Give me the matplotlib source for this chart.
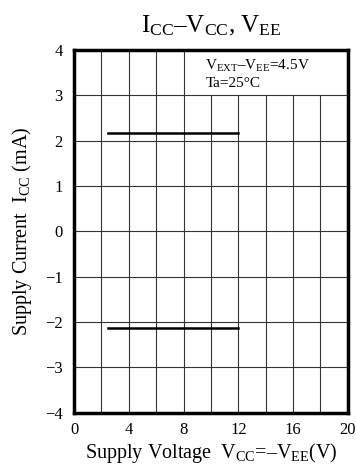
import matplotlib
matplotlib.use("Agg")
import matplotlib.pyplot as plt

plt.rcParams["font.family"] = ["Liberation Serif", "DejaVu Serif"]
plt.rcParams["mathtext.fontset"] = "custom"
plt.rcParams["mathtext.rm"] = "Liberation Serif"
plt.rcParams["mathtext.it"] = "Liberation Serif"

# supply voltage range and measured current levels
vcc = [2.5, 12]
icc_pos = [2.17, 2.17]
icc_neg = [-2.13, -2.13]

x_ticks = [0, 4, 8, 12, 16, 20]
y_ticks = [-4, -3, -2, -1, 0, 1, 2, 3, 4]
x_grid = [2, 4, 6, 8, 10, 12, 14, 16, 18]
y_grid = [-3, -2, -1, 0, 1, 2, 3]

fig = plt.figure(figsize=(3.56, 4.68), dpi=100)
ax = fig.add_axes([0.208, 0.118, 0.769, 0.775])

# grid, leaving the upper right cell free for the conditions note
for x in x_grid:
    top = 4 if x < 9 else 3
    ax.plot([x, x], [-4, top], color="#333333", lw=0.8, zorder=1)
for y in y_grid:
    ax.plot([0, 20], [y, y], color="#333333", lw=0.8, zorder=1)

ax.plot(vcc, icc_pos, color="black", lw=1.8, zorder=3)
ax.plot(vcc, icc_neg, color="black", lw=1.8, zorder=3)

ax.set_xlim(0, 20)
ax.set_ylim(-4, 4)
ax.set_xticks(x_ticks)
ax.set_yticks(y_ticks)
ax.tick_params(length=0, labelsize=12)
ax.tick_params(axis="x", pad=7)
ax.tick_params(axis="y", pad=8)
for s in ax.spines.values():
    s.set_linewidth(2.5)

ax.text(9.6, 3.82, r"$\mathrm{V_{EXT}}$–$\mathrm{V_{EE}}$=4.5V", fontsize=11, va="top")
ax.text(9.6, 3.41, "Ta=25°C", fontsize=11, va="top")

ax.set_xlabel(r"Supply Voltage  $\mathrm{V_{CC}}$=–$\mathrm{V_{EE}}$(V)", fontsize=14.5, labelpad=2)
ax.set_ylabel(r"Supply Current  $\mathrm{I_{CC}}$ (mA)", fontsize=14.5, labelpad=8)
ax.set_title(r"$\mathrm{I_{CC}}$–$\mathrm{V_{CC}}$, $\mathrm{V_{EE}}$", fontsize=18, pad=13)

fig.savefig("out.png", dpi=100)
